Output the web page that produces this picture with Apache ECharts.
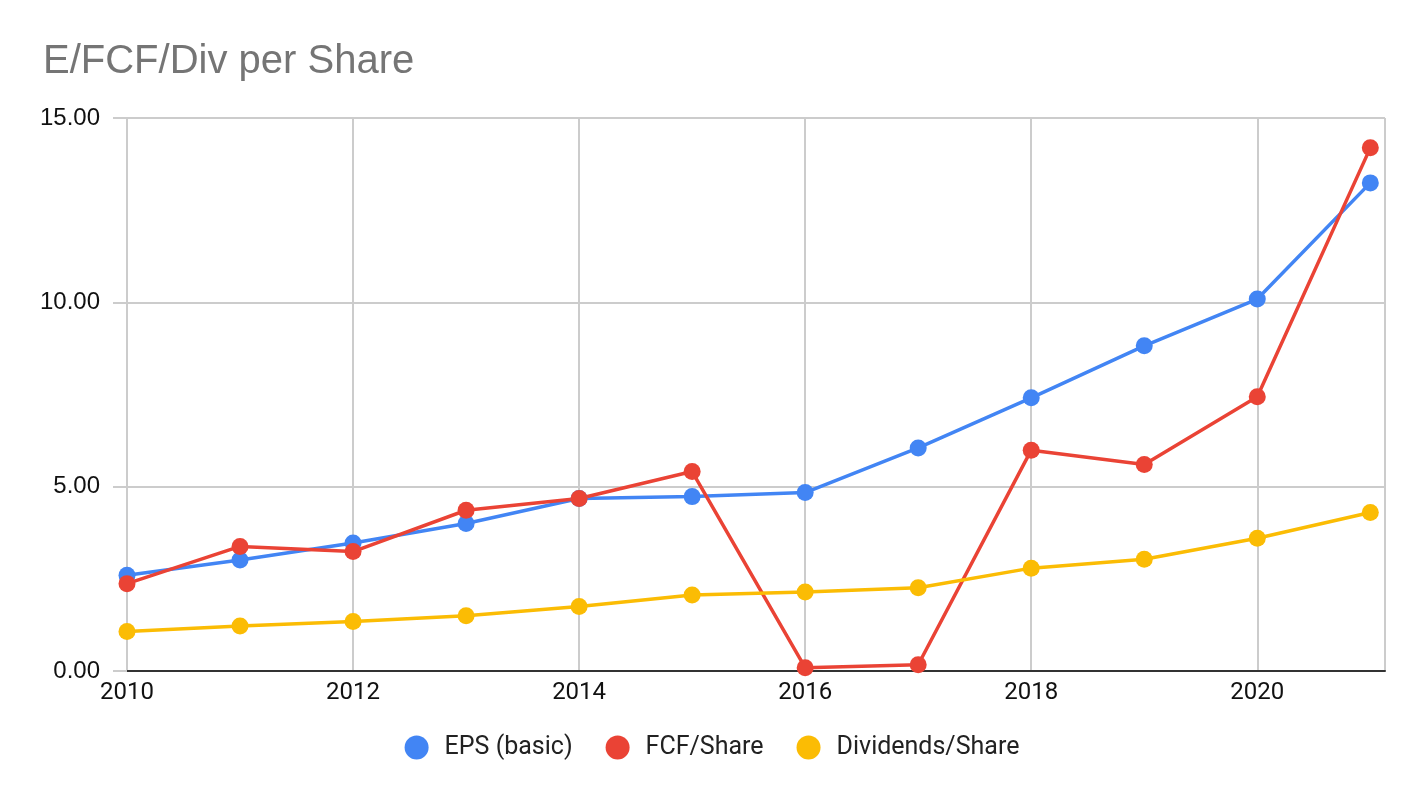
<!DOCTYPE html>
<html>
<head>
<meta charset="utf-8">
<title>E/FCF/Div per Share</title>
<script src="https://cdn.jsdelivr.net/npm/echarts@6/dist/echarts.min.js"></script>
<style>
  html, body { margin: 0; padding: 0; background: #fff; }
  #chart { width: 1424px; height: 798px; }
</style>
</head>
<body>
<div id="chart"></div>
<script>
// years on the x axis
var years = [2010, 2011, 2012, 2013, 2014, 2015, 2016, 2017, 2018, 2019, 2020, 2021];
// values
var epsBasic = [2.60, 3.01, 3.47, 4.00, 4.68, 4.73, 4.84, 6.05, 7.41, 8.82, 10.09, 13.24];
var fcfShare = [2.37, 3.38, 3.24, 4.36, 4.68, 5.41, 0.09, 0.17, 5.99, 5.60, 7.44, 14.19];
var divShare = [1.07, 1.22, 1.34, 1.50, 1.75, 2.06, 2.14, 2.26, 2.79, 3.03, 3.60, 4.30];
var seriesNames = ['EPS (basic)', 'FCF/Share', 'Dividends/Share'];
var colors = ['#4285F4', '#EA4335', '#FBBC04'];

function pairs(vals) {
  var out = [];
  for (var i = 0; i < years.length; i++) {
    out.push([years[i], vals[i]]);
  }
  return out;
}

function lineSeries(name, vals, color) {
  return {
    name: name,
    type: 'line',
    data: pairs(vals),
    symbol: 'circle',
    symbolSize: 17,
    showAllSymbol: true,
    lineStyle: { width: 3.5, color: color },
    itemStyle: { color: color },
    emphasis: { disabled: true },
    animation: false
  };
}

var myChart = echarts.init(document.getElementById('chart'));
var option = {
  backgroundColor: '#fff',
  color: colors,
  title: {
    text: 'E/FCF/Div per Share',
    left: 38,
    top: 37,
    textStyle: {
      fontFamily: 'Liberation Sans, Arial, sans-serif',
      fontSize: 40,
      fontWeight: 'normal',
      color: '#757575'
    }
  },
  legend: {
    bottom: 33,
    left: 'center',
    icon: 'circle',
    itemWidth: 24,
    itemHeight: 24,
    itemGap: 33,
    data: seriesNames,
    textStyle: {
      fontFamily: 'Roboto, Liberation Sans, Arial, sans-serif',
      fontSize: 25,
      color: '#222',
      padding: [0, 0, 0, 11]
    }
  },
  grid: {
    left: 127,
    right: 39,
    top: 118,
    bottom: 127,
    containLabel: false
  },
  xAxis: {
    type: 'value',
    min: 2010,
    max: 2021.13,
    interval: 2,
    axisLine: { show: true, onZero: false, lineStyle: { color: '#333', width: 2 } },
    axisTick: { show: false },
    splitLine: { show: true, lineStyle: { color: '#ccc', width: 2 } },
    axisLabel: {
      margin: 10,
      fontFamily: 'Roboto, Liberation Sans, Arial, sans-serif',
      fontSize: 24,
      color: '#111',
      showMaxLabel: false,
      formatter: function (v) { return String(v); }
    }
  },
  yAxis: {
    type: 'value',
    min: 0,
    max: 15,
    interval: 5,
    axisLine: { show: false },
    axisTick: { show: true, length: 14, lineStyle: { color: '#ccc', width: 2 } },
    splitLine: { show: true, lineStyle: { color: '#ccc', width: 2 } },
    axisLabel: {
      margin: 27,
      fontFamily: 'Liberation Sans, Arial, sans-serif',
      fontSize: 24,
      color: '#111',
      formatter: function (v) { return v.toFixed(2); }
    }
  },
  series: [
    lineSeries(seriesNames[0], epsBasic, colors[0]),
    lineSeries(seriesNames[1], fcfShare, colors[1]),
    lineSeries(seriesNames[2], divShare, colors[2])
  ]
};
myChart.setOption(option);
</script>
</body>
</html>
